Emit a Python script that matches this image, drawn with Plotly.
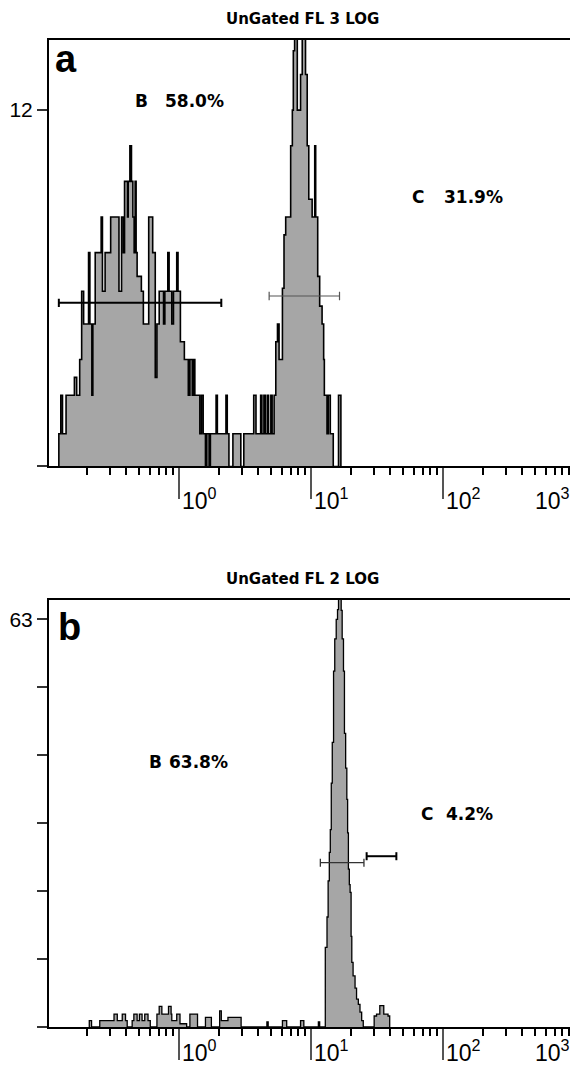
import math
import plotly.graph_objects as go

# ---------------- data ----------------
# Panel a : UnGated FL 3 LOG  (step edges on the log axis, counts in axis units)
a_edges = [0.1229, 0.1229, 0.1272, 0.1310, 0.1394, 0.1612, 0.1678, 0.1768, 0.1830, 0.1894,
           0.2064, 0.2112, 0.2186, 0.2224, 0.2318, 0.2571, 0.2630, 0.2755, 0.3035, 0.3309,
           0.3509, 0.3670, 0.3780, 0.3866, 0.4072, 0.4121, 0.4244, 0.4363, 0.4470, 0.4571,
           0.4650, 0.4732, 0.4815, 0.5186, 0.5369, 0.5894, 0.6318, 0.6607, 0.6803, 0.7078,
           0.7505, 0.7636, 0.7810, 0.8226, 0.8414, 0.8816, 0.9078, 0.9610, 0.9829, 1.0245,
           1.0978, 1.156, 1.176, 1.209, 1.261, 1.289, 1.318, 1.438, 1.480, 1.524,
           1.586, 1.622, 1.691, 1.729, 1.909, 1.952, 2.268, 2.320, 2.389, 2.560,
           2.940, 3.096, 3.681, 3.830, 4.153, 4.247, 4.397, 4.497, 4.655, 4.769,
           4.963, 5.075, 5.253, 5.410, 5.572, 5.728, 6.074, 6.244, 6.431, 7.013,
           7.222, 7.345, 7.512, 7.871, 8.332, 8.582, 9.087, 9.357, 9.619, 10.20,
           10.67, 10.85, 11.24, 11.63, 12.13, 12.47, 12.62, 13.22, 13.52, 14.00,
           14.74, 16.16, 16.84]
a_counts = [0, 1.1, 2.4, 1.1, 2.4, 3.0, 2.4, 3.6, 5.9, 4.8,
            7.2, 4.8, 2.4, 4.8, 7.2, 8.4, 5.9, 7.2, 8.4, 8.4,
            5.9, 8.4, 7.2, 9.6, 8.4, 9.6, 10.8, 9.6, 8.4, 7.2,
            9.6, 7.2, 6.4, 5.9, 4.8, 8.4, 7.2, 3.0, 4.8, 5.9,
            5.9, 4.8, 5.9, 7.2, 5.9, 4.8, 5.9, 7.2, 5.9, 4.2,
            3.6, 3.6, 2.4, 3.6, 2.4, 3.6, 2.4, 1.1, 2.4, 1.1,
            0, 1.1, 0, 1.1, 2.4, 1.1, 2.4, 1.1, 0, 1.1,
            0, 1.1, 2.4, 1.1, 2.4, 1.1, 2.4, 1.1, 2.4, 1.1,
            2.4, 1.1, 2.4, 4.2, 4.8, 3.6, 6.0, 7.8, 8.4, 10.8,
            12.0, 14.0, 15.0, 12.0, 13.2, 15.0, 13.2, 10.8, 9.0, 8.4,
            10.8, 8.4, 6.4, 5.4, 4.8, 3.6, 2.4, 1.1, 2.4, 1.1,
            0, 2.4, 0]

# Panel b : UnGated FL 2 LOG
b_edges = [0.2090, 0.2090, 0.2175, 0.2509, 0.3218, 0.3407, 0.3715, 0.3933, 0.4050, 0.4416,
           0.4548, 0.4815, 0.5010, 0.5249, 0.5500, 0.5823, 0.6059, 0.6803, 0.7078, 0.7414,
           0.8326, 0.8710, 0.8816, 0.9610, 1.0174, 1.1423, 1.209, 1.381, 1.586, 1.759,
           2.031, 2.091, 2.348, 2.954, 4.632, 4.737, 6.074, 6.543, 8.332, 8.822,
           11.37, 11.63, 12.83, 13.22, 13.48, 13.76, 14.00, 14.24, 14.49, 14.82,
           15.13, 15.52, 15.88, 16.16, 16.93, 17.22, 17.62, 17.92, 18.30, 18.68,
           18.94, 19.20, 19.51, 19.78, 20.12, 20.37, 20.83, 21.56, 22.13, 22.83,
           23.50, 24.20, 24.88, 30.09, 31.37, 33.20, 35.58, 38.32, 39.46]
b_counts = [0, 1.0, 0, 1.0, 2.0, 1.0, 2.0, 1.0, 0, 1.0,
            2.0, 1.0, 2.0, 1.0, 2.0, 1.0, 0, 2.0, 3.2, 2.0,
            3.2, 2.0, 1.0, 2.0, 0.5, 0, 2.0, 0, 1.5, 0,
            2.5, 1.0, 1.5, 0, 0.8, 0, 1.0, 0, 1.0, 0,
            0.8, 0, 12.3, 17.0, 22.6, 27.0, 30.5, 37.7, 44.0, 55.0,
            60.0, 63.0, 64.5, 67.0, 64.4, 60.0, 55.0, 45.4, 40.0, 35.2,
            30.0, 24.4, 22.0, 20.8, 14.0, 10.0, 7.9, 6.0, 4.3, 3.5,
            2.3, 1.0, 0, 1.7, 2.0, 3.3, 2.0, 1.7, 0]

# gates: [low, high] channel values and marker height
gate_aB = [0.1229, 2.091]; gate_aB_y = 5.51
gate_aC = [4.818, 16.44];  gate_aC_y = 5.74
gate_bB = [11.77, 25.18];  gate_bB_y = 25.4
gate_bC = [26.39, 44.32];  gate_bC_y = 26.4

titles = ["UnGated FL 3 LOG", "UnGated FL 2 LOG"]
a_labels = [("B", "58.0%"), ("C", "31.9%")]
b_labels = [("B", "63.8%"), ("C", "4.2%")]

x_major = [1, 10, 100, 1000]
x_major_text = ["10<sup>0</sup>", "10<sup>1</sup>", "10<sup>2</sup>", "10<sup>3</sup>"]
x_minor = [m * d for d in (0.1, 1, 10, 100) for m in range(2, 10)]
ya_ticks = [0, 12]
yb_ticks = [0, 10.5, 21, 31.5, 42, 52.5, 63]

# ---------------- figure ----------------
GRAY = "#a6a6a6"
fig = go.Figure()

fig.add_trace(go.Scatter(x=a_edges, y=a_counts, mode="lines",
                         line=dict(shape="hv", color="black", width=1.6),
                         fill="tozeroy", fillcolor=GRAY, xaxis="x", yaxis="y",
                         showlegend=False, hoverinfo="skip"))
fig.add_trace(go.Scatter(x=b_edges, y=b_counts, mode="lines",
                         line=dict(shape="hv", color="black", width=1.3),
                         fill="tozeroy", fillcolor=GRAY, xaxis="x2", yaxis="y2",
                         showlegend=False, hoverinfo="skip"))


def gate(xs, yv, xa, ya, color, width, cap):
    fig.add_trace(go.Scatter(x=xs, y=[yv, yv], mode="lines",
                             line=dict(color=color, width=width),
                             error_y=dict(type="constant", value=cap, width=0,
                                          color=color, thickness=width),
                             xaxis=xa, yaxis=ya, showlegend=False, hoverinfo="skip"))


gate(gate_aB, gate_aB_y, "x", "y", "black", 2, 0.14)
gate(gate_aC, gate_aC_y, "x", "y", "#555555", 1.2, 0.14)
gate(gate_bB, gate_bB_y, "x2", "y2", "#333333", 1.3, 0.62)
gate(gate_bC, gate_bC_y, "x2", "y2", "black", 2, 0.62)

FONT = "Liberation Sans, Arial, sans-serif"
BOLDF = "DejaVu Sans, sans-serif"

xcommon = dict(type="log", range=[-0.985, 3.0], showgrid=False, zeroline=False,
               showline=True, mirror=True, linecolor="black", linewidth=2,
               ticks="outside", tickvals=x_major, ticklen=31, tickwidth=1.5,
               tickcolor="#555555", showticklabels=False,
               minor=dict(ticks="outside", tickvals=x_minor, ticklen=7,
                          tickwidth=1.5, tickcolor="black"))
ycommon = dict(showgrid=False, zeroline=False, showline=True, mirror=True,
               linecolor="black", linewidth=2, ticks="outside", ticklen=10,
               tickwidth=1.5, tickcolor="#333333",
               tickfont=dict(family=FONT, size=21, color="black"))

# the page body adds an 8px offset, so the figure is 8px smaller than the window
fig.update_layout(
    width=570, height=1063,
    margin=dict(l=38, r=1, t=32, b=44),
    plot_bgcolor="white", paper_bgcolor="white",
    xaxis=dict(**xcommon, domain=[0, 1], anchor="y"),
    yaxis=dict(**ycommon, domain=[0.5679, 1], range=[0, 14.36], anchor="x",
               tickvals=ya_ticks, ticktext=["", "12"]),
    xaxis2=dict(**xcommon, domain=[0, 1], anchor="y2"),
    yaxis2=dict(**ycommon, domain=[0, 0.4326], range=[0, 66], anchor="x2",
                tickvals=yb_ticks, ticktext=[""] * 6 + ["63"]),
)

ann = []
for (xa, ya, t, lab, lbl_pos, tick_y) in [
        ("x", "y", titles[0], "a", [(0.160, 0.2166, 0.856), (0.687, 0.7476, 0.632)], -0.077),
        ("x2", "y2", titles[1], "b", [(0.1864, 0.2241, 0.6206), (0.7043, 0.7514, 0.4988)], -0.056)]:
    labels = a_labels if xa == "x" else b_labels
    ann.append(dict(text="<b>%s</b>" % t, xref=xa + " domain", yref=ya + " domain",
                    x=0.482, y=1.050, xanchor="center", yanchor="middle", showarrow=False,
                    font=dict(family=BOLDF, size=15, color="black")))
    ann.append(dict(text="<b>%s</b>" % lab, xref=xa + " domain", yref=ya + " domain",
                    x=0.0075 if lab == "a" else 0.0132, y=0.9566 if lab == "a" else 0.9372,
                    xanchor="left", yanchor="middle", showarrow=False,
                    font=dict(family=FONT, size=38, color="black")))
    for (letter, pct), (xl, xp, yv) in zip(labels, lbl_pos):
        ann.append(dict(text="<b>%s</b>" % letter, xref=xa + " domain", yref=ya + " domain",
                        x=xl, y=yv, xanchor="left", yanchor="middle", showarrow=False,
                        font=dict(family=BOLDF, size=17, color="black")))
        ann.append(dict(text="<b>%s</b>" % pct, xref=xa + " domain", yref=ya + " domain",
                        x=xp, y=yv, xanchor="left", yanchor="middle", showarrow=False,
                        font=dict(family=BOLDF, size=17, color="black")))
    for v, txt in zip(x_major, x_major_text):
        last = v == x_major[-1]
        ann.append(dict(text=txt, xref=xa, yref=ya + " domain", x=math.log10(v), y=tick_y,
                        xanchor="right" if last else "left", yanchor="middle",
                        xshift=-3 if last else 1, showarrow=False,
                        font=dict(family=FONT, size=23, color="black")))

fig.update_layout(annotations=ann)
fig.write_html("out.html")
